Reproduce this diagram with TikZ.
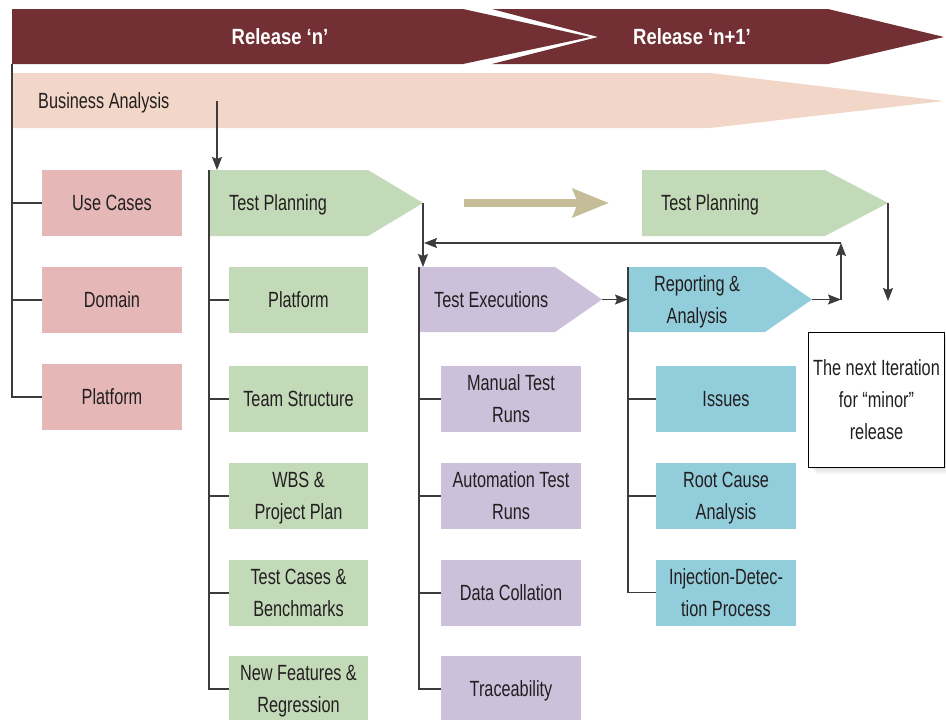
\documentclass[tikz,border=0pt]{standalone}
\usepackage{fontspec}
\setmainfont{Liberation Sans}[FakeStretch=0.74]
\newfontfamily\relfont{Liberation Sans}[FakeStretch=0.84]
\usetikzlibrary{arrows.meta,shadows}
\definecolor{relc}{RGB}{114,48,53}
\definecolor{peachc}{RGB}{242,214,199}
\definecolor{pinkc}{RGB}{229,184,183}
\definecolor{greenc}{RGB}{195,218,184}
\definecolor{purplec}{RGB}{204,192,218}
\definecolor{cyanc}{RGB}{146,205,220}
\definecolor{tanc}{RGB}{196,189,151}
\definecolor{txtc}{RGB}{35,31,32}
\definecolor{linec}{RGB}{60,60,60}
\tikzset{
  lbl/.style={text=txtc, font=\fontsize{22}{32}\selectfont, inner sep=0pt, text depth=0pt},
  subbox/.style={lbl, minimum width=140pt, minimum height=66pt, align=center},
  reltext/.style={text=white, font=\relfont\bfseries\fontsize{22}{26}\selectfont, inner sep=0pt},
  ln/.style={draw=linec, line width=1.1pt},
  arr/.style={ln, -{Stealth[length=13pt,width=10pt,inset=2pt]}},
  softshadow/.style={
    drop shadow={opacity=0.07, shadow xshift=7pt, shadow yshift=-7pt},
    drop shadow={opacity=0.08, shadow xshift=5pt, shadow yshift=-5pt},
    drop shadow={opacity=0.10, shadow xshift=3pt, shadow yshift=-3pt}},
}
\begin{document}
\begin{tikzpicture}[x=1pt,y=-1pt]
\useasboundingbox (0,0) rectangle (946,720);
% release banner
\fill[relc] (12,9) -- (463,9) -- (590,37) -- (463,64) -- (12,64) -- cycle;
\fill[relc] (492,9) -- (828,9) -- (944,37) -- (828,64) -- (492,64) -- (598,37) -- cycle;
\node[reltext] (rn) at (280,37) {Release ‘n’};
\node[reltext] (rn1) at (692,37) {Release ‘n+1’};
% business analysis band
\fill[peachc] (12,73) -- (710,73) -- (944,101) -- (710,128) -- (12,128) -- cycle;
\node[lbl, anchor=west] (ba) at (38,101) {Business Analysis};
\coordinate (baL) at (12,64);
\coordinate (baA) at (217,101);
% pink boxes
\node[subbox, fill=pinkc] (uc) at (112,203) {Use Cases};
\node[subbox, fill=pinkc] (dom) at (112,300) {Domain};
\node[subbox, fill=pinkc] (pl1) at (112,397) {Platform};
\draw[ln] (baL) |- (uc.west);
\draw[ln] (baL) |- (dom.west);
\draw[ln] (baL) |- (pl1.west);
% test planning (n)
\fill[greenc] (209,170) -- (368,170) -- (423,203) -- (368,236) -- (209,236) -- cycle;
\node[lbl, anchor=west] (tp) at (229,203) {Test Planning};
\coordinate (tpL) at (209,170);
\coordinate (tpTop) at (217,170);
\coordinate (tpTip) at (423,203);
\draw[arr] (baA) -- (tpTop);
\node[subbox, fill=greenc, minimum width=139pt] (g1) at (298.5,300) {Platform};
\node[subbox, fill=greenc, minimum width=139pt] (g2) at (298.5,399) {Team Structure};
\node[subbox, fill=greenc, minimum width=139pt] (g3) at (298.5,496) {WBS \&\\Project Plan};
\node[subbox, fill=greenc, minimum width=139pt] (g4) at (298.5,593) {Test Cases \&\\Benchmarks};
\node[subbox, fill=greenc, minimum width=139pt] (g5) at (298.5,689) {New Features \&\\Regression};
\foreach \n in {g1,g2,g3,g4,g5} \draw[ln] (tpL) |- (\n.west);
% test executions
\fill[purplec] (419,267) -- (555,267) -- (602,299.5) -- (555,332) -- (419,332) -- cycle;
\node[lbl, anchor=west] (te) at (434,299.5) {Test Executions};
\coordinate (teL) at (419,267);
\coordinate (teTop) at (423,267);
\coordinate (teTip) at (602,299.5);
\draw[arr] (tpTip) -- (teTop);
\node[subbox, fill=purplec] (p1) at (511,399) {Manual Test\\Runs};
\node[subbox, fill=purplec] (p2) at (511,496) {Automation Test\\Runs};
\node[subbox, fill=purplec] (p3) at (511,593) {Data Collation};
\node[subbox, fill=purplec] (p4) at (511,689) {Traceability};
\foreach \n in {p1,p2,p3,p4} \draw[ln] (teL) |- (\n.west);
% reporting
\fill[cyanc] (628,267) -- (765,267) -- (812,299.5) -- (765,332) -- (628,332) -- cycle;
\node[lbl, align=center] (rp) at (697,299.5) {Reporting \&\\Analysis};
\coordinate (rpL) at (628,267);
\coordinate (rpIn) at (628,299.5);
\coordinate (rpTip) at (812,299.5);
\draw[arr] (teTip) -- (rpIn);
\node[subbox, fill=cyanc] (c1) at (726,399) {Issues};
\node[subbox, fill=cyanc] (c2) at (726,496) {Root Cause\\Analysis};
\node[subbox, fill=cyanc] (c3) at (726,592.5) {Injection-Detec-\\tion Process};
\foreach \n in {c1,c2,c3} \draw[ln] (rpL) |- (\n.west);
% feedback loop
\coordinate (lpA) at (841,299.5);
\coordinate (lpB) at (841,243);
\coordinate (lpC) at (424,243);
\draw[arr] (rpTip) -- (lpA);
\draw[arr] (lpA) -- (lpB);
\draw[arr] (lpB) -- (lpC);
% test planning (n+1)
\fill[greenc] (642,170) -- (825,170) -- (888,203) -- (825,236) -- (642,236) -- cycle;
\node[lbl, anchor=west] (tp2) at (661,203) {Test Planning};
\coordinate (tp2Tip) at (888,203);
\coordinate (tp2End) at (888,301);
\draw[arr] (tp2Tip) -- (tp2End);
% big tan arrow
\coordinate (bigA) at (464,203);
\coordinate (bigB) at (609,203);
\draw[tanc, line width=8pt, -{Stealth[length=36pt,width=28pt,inset=5pt]}] (bigA) -- (bigB);
% next iteration box
\node[lbl, draw=black, line width=1pt, fill=white, minimum width=136pt, minimum height=135pt, align=center,
  softshadow] (ni) at (876.5,399.5)
  {The next Iteration\\for “minor”\\release};
\end{tikzpicture}
\end{document}
